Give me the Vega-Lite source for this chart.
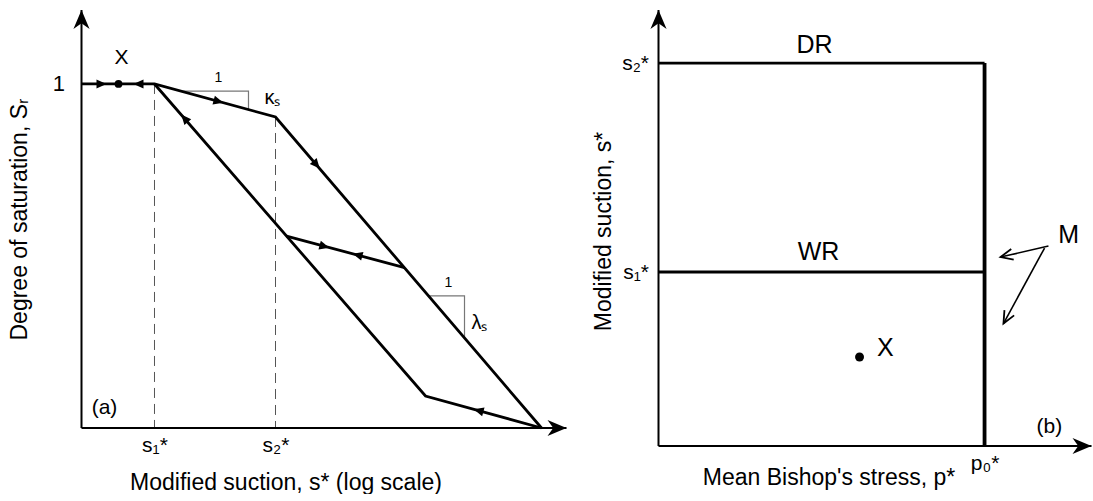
{
  "$schema": "https://vega.github.io/schema/vega-lite/v6.json",
  "padding": {"left": 8.5, "top": 9, "right": 0, "bottom": 0},
  "background": "white",
  "spacing": 92,
  "bounds": "flush",
  "config": {
    "view": {"stroke": null},
    "font": "Liberation Sans",
    "axis": {"grid": false, "domain": false, "ticks": false, "labelFont": "Liberation Sans", "titleFont": "Liberation Sans", "labelColor": "black", "titleColor": "black", "titleFontWeight": "normal", "labelFontWeight": "normal"}
  },
  "datasets": {
    "a_axes": [{"x": 0, "y": 0, "x2": 0, "y2": 1.215}, {"x": 0, "y": 0, "x2": 10, "y2": 0}],
    "a_axarrows": [{"x": 0, "y": 1.215, "dir": "up"}, {"x": 10, "y": 0, "dir": "right"}],
    "a_lines": [
      {"seg": "drying", "i": 0, "x": 0, "y": 1},
      {"seg": "drying", "i": 1, "x": 1.505, "y": 1},
      {"seg": "drying", "i": 2, "x": 4.0, "y": 0.904},
      {"seg": "drying", "i": 3, "x": 9.485, "y": 0},
      {"seg": "wetting", "i": 0, "x": 9.485, "y": 0},
      {"seg": "wetting", "i": 1, "x": 7.093, "y": 0.093},
      {"seg": "wetting", "i": 2, "x": 1.505, "y": 1},
      {"seg": "scanning", "i": 0, "x": 4.227, "y": 0.558},
      {"seg": "scanning", "i": 1, "x": 6.66, "y": 0.466}
    ],
    "a_dash": [
      {"seg": "s1", "i": 0, "x": 1.505, "y": 1},
      {"seg": "s1", "i": 1, "x": 1.505, "y": 0},
      {"seg": "s2", "i": 0, "x": 4.0, "y": 0.904},
      {"seg": "s2", "i": 1, "x": 4.0, "y": 0}
    ],
    "a_tri": [
      {"seg": "kappa", "i": 0, "x": 2.05, "y": 0.979},
      {"seg": "kappa", "i": 1, "x": 3.443, "y": 0.979},
      {"seg": "kappa", "i": 2, "x": 3.443, "y": 0.925},
      {"seg": "lambda", "i": 0, "x": 7.155, "y": 0.384},
      {"seg": "lambda", "i": 1, "x": 7.897, "y": 0.384},
      {"seg": "lambda", "i": 2, "x": 7.897, "y": 0.262}
    ],
    "a_arrows": [
      {"x": 0.412, "y": 1, "dir": "drying_h"},
      {"x": 1.175, "y": 1, "dir": "wetting_h"},
      {"x": 2.825, "y": 0.949, "dir": "drying_kappa"},
      {"x": 4.845, "y": 0.765, "dir": "drying_main"},
      {"x": 5.01, "y": 0.528, "dir": "drying_scan"},
      {"x": 5.69, "y": 0.503, "dir": "wetting_scan"},
      {"x": 2.124, "y": 0.9, "dir": "wetting_main"},
      {"x": 8.186, "y": 0.0505, "dir": "wetting_low"}
    ],
    "a_dots": [{"x": 0.763, "y": 1}],
    "a_text_big": [{"x": 0.825, "y": 1.076, "t": "X"}, {"x": 0.474, "y": 0.058, "t": "(a)"}],
    "a_text_mid": [{"x": 3.938, "y": 0.959, "t": "κₛ"}, {"x": 8.206, "y": 0.305, "t": "λₛ"}],
    "a_text_small": [{"x": 2.825, "y": 1.017, "t": "1"}, {"x": 7.567, "y": 0.4215, "t": "1"}],
    "b_axes": [{"x": 0, "y": 0, "x2": 0, "y2": 2.506}, {"x": 0, "y": 0, "x2": 1.328, "y2": 0}],
    "b_axarrows": [{"x": 0, "y": 2.506, "dir": "up"}, {"x": 1.328, "y": 0, "dir": "right"}],
    "b_lines": [{"x": 0, "y": 2.201, "x2": 1, "y2": 2.201}, {"x": 0, "y": 1, "x2": 1, "y2": 1}],
    "b_p0": [{"x": 1, "y": 0, "x2": 1, "y2": 2.201}],
    "b_mlines": [{"x": 1.196, "y": 1.149, "x2": 1.049, "y2": 1.086}, {"x": 1.184, "y": 1.138, "x2": 1.058, "y2": 0.704}],
    "b_marrows": [{"x": 1.049, "y": 1.086, "dir": "upper"}, {"x": 1.058, "y": 0.704, "dir": "lower"}],
    "b_dots": [{"x": 0.6166, "y": 0.5115}],
    "b_text_big": [
      {"x": 0.4785, "y": 2.305, "t": "DR"},
      {"x": 0.491, "y": 1.115, "t": "WR"},
      {"x": 0.696, "y": 0.563, "t": "X"},
      {"x": 1.2577, "y": 1.2126, "t": "M"}
    ],
    "b_text_small": [{"x": 1.199, "y": 0.107, "t": "(b)"}]
  },
  "hconcat": [
    {
      "width": 485,
      "height": 418,
      "encoding": {
        "x": {
          "field": "x", "type": "quantitative",
          "scale": {"domain": [0, 10], "nice": false, "zero": false},
          "axis": {
            "values": [1.505, 4.0],
            "labelExpr": "datum.value < 2 ? 's₁*' : 's₂*'",
            "labelFontSize": 21, "labelPadding": 6,
            "title": "Modified suction, s* (log scale)",
            "titleFontSize": 23, "titleX": 204, "titleY": 54,
            "titleBaseline": "middle", "titleAlign": "center"
          }
        },
        "y": {
          "field": "y", "type": "quantitative",
          "scale": {"domain": [0, 1.215], "nice": false, "zero": false},
          "axis": {
            "values": [1],
            "labelExpr": "'1'",
            "labelFontSize": 22, "labelPadding": 17, "labelBaseline": "middle",
            "title": "Degree of saturation, Sᵣ",
            "titleFontSize": 23, "titleX": -62, "titleY": 209,
            "titleBaseline": "middle", "titleAlign": "center"
          }
        }
      },
      "layer": [
        {"data": {"name": "a_dash"}, "mark": {"type": "line", "color": "#555555", "strokeWidth": 1, "strokeDash": [10, 6]}, "encoding": {"detail": {"field": "seg"}, "order": {"field": "i"}}},
        {"data": {"name": "a_tri"}, "mark": {"type": "line", "color": "#777777", "strokeWidth": 1.2}, "encoding": {"detail": {"field": "seg"}, "order": {"field": "i"}}},
        {"data": {"name": "a_axes"}, "mark": {"type": "rule", "color": "black", "strokeWidth": 2}, "encoding": {"x2": {"field": "x2"}, "y2": {"field": "y2"}}},
        {"data": {"name": "a_axarrows"}, "transform": [{"filter": "datum.dir === 'up'"}], "mark": {"type": "point", "shape": "M0,0 L-2,-0.85 L-1.4,0 L-2,0.85 Z", "angle": 270, "filled": true, "color": "black", "opacity": 1, "size": 360}},
        {"data": {"name": "a_axarrows"}, "transform": [{"filter": "datum.dir === 'right'"}], "mark": {"type": "point", "shape": "M0,0 L-2,-0.85 L-1.4,0 L-2,0.85 Z", "angle": 0, "filled": true, "color": "black", "opacity": 1, "size": 360}},
        {"data": {"name": "a_lines"}, "mark": {"type": "line", "color": "black", "strokeWidth": 2.8}, "encoding": {"detail": {"field": "seg"}, "order": {"field": "i"}}},
        {"data": {"name": "a_arrows"}, "transform": [{"filter": "datum.dir === 'drying_h'"}], "mark": {"type": "point", "shape": "M1,0 L-1,-0.9 L-1,0.9 Z", "angle": 0, "filled": true, "color": "black", "opacity": 1, "size": 100}},
        {"data": {"name": "a_arrows"}, "transform": [{"filter": "datum.dir === 'wetting_h'"}], "mark": {"type": "point", "shape": "M1,0 L-1,-0.9 L-1,0.9 Z", "angle": 180, "filled": true, "color": "black", "opacity": 1, "size": 100}},
        {"data": {"name": "a_arrows"}, "transform": [{"filter": "datum.dir === 'drying_kappa'"}], "mark": {"type": "point", "shape": "M1,0 L-1,-0.9 L-1,0.9 Z", "angle": 15.3, "filled": true, "color": "black", "opacity": 1, "size": 100}},
        {"data": {"name": "a_arrows"}, "transform": [{"filter": "datum.dir === 'drying_main'"}], "mark": {"type": "point", "shape": "M1,0 L-1,-0.9 L-1,0.9 Z", "angle": 49.5, "filled": true, "color": "black", "opacity": 1, "size": 100}},
        {"data": {"name": "a_arrows"}, "transform": [{"filter": "datum.dir === 'drying_scan'"}], "mark": {"type": "point", "shape": "M1,0 L-1,-0.9 L-1,0.9 Z", "angle": 15, "filled": true, "color": "black", "opacity": 1, "size": 100}},
        {"data": {"name": "a_arrows"}, "transform": [{"filter": "datum.dir === 'wetting_scan'"}], "mark": {"type": "point", "shape": "M1,0 L-1,-0.9 L-1,0.9 Z", "angle": 195, "filled": true, "color": "black", "opacity": 1, "size": 100}},
        {"data": {"name": "a_arrows"}, "transform": [{"filter": "datum.dir === 'wetting_main'"}], "mark": {"type": "point", "shape": "M1,0 L-1,-0.9 L-1,0.9 Z", "angle": 229, "filled": true, "color": "black", "opacity": 1, "size": 100}},
        {"data": {"name": "a_arrows"}, "transform": [{"filter": "datum.dir === 'wetting_low'"}], "mark": {"type": "point", "shape": "M1,0 L-1,-0.9 L-1,0.9 Z", "angle": 195.4, "filled": true, "color": "black", "opacity": 1, "size": 100}},
        {"data": {"name": "a_dots"}, "mark": {"type": "point", "shape": "circle", "filled": true, "color": "black", "opacity": 1, "size": 60}},
        {"data": {"name": "a_text_big"}, "mark": {"type": "text", "font": "Liberation Sans", "fontSize": 21, "color": "black", "align": "center", "baseline": "middle"}, "encoding": {"text": {"field": "t"}}},
        {"data": {"name": "a_text_mid"}, "mark": {"type": "text", "font": "Liberation Sans", "fontSize": 20, "color": "black", "align": "center", "baseline": "middle"}, "encoding": {"text": {"field": "t"}}},
        {"data": {"name": "a_text_small"}, "mark": {"type": "text", "font": "Liberation Sans", "fontSize": 14, "color": "black", "align": "center", "baseline": "middle"}, "encoding": {"text": {"field": "t"}}}
      ]
    },
    {
      "width": 433,
      "height": 436,
      "encoding": {
        "x": {
          "field": "x", "type": "quantitative",
          "scale": {"domain": [0, 1.328], "nice": false, "zero": false},
          "axis": {
            "values": [1],
            "labelExpr": "'p₀*'",
            "labelFontSize": 21, "labelPadding": 6,
            "title": "Mean Bishop's stress, p*",
            "titleFontSize": 23, "titleX": 170, "titleY": 31,
            "titleBaseline": "middle", "titleAlign": "center"
          }
        },
        "y": {
          "field": "y", "type": "quantitative",
          "scale": {"domain": [0, 2.506], "nice": false, "zero": false},
          "axis": {
            "values": [1, 2.201],
            "labelExpr": "datum.value < 1.5 ? 's₁*' : 's₂*'",
            "labelFontSize": 21, "labelPadding": 10, "labelBaseline": "middle",
            "title": "Modified suction, s*",
            "titleFontSize": 23, "titleX": -55, "titleY": 221,
            "titleBaseline": "middle", "titleAlign": "center"
          }
        }
      },
      "layer": [
        {"data": {"name": "b_axes"}, "mark": {"type": "rule", "color": "black", "strokeWidth": 2}, "encoding": {"x2": {"field": "x2"}, "y2": {"field": "y2"}}},
        {"data": {"name": "b_axarrows"}, "transform": [{"filter": "datum.dir === 'up'"}], "mark": {"type": "point", "shape": "M0,0 L-2,-0.85 L-1.4,0 L-2,0.85 Z", "angle": 270, "filled": true, "color": "black", "opacity": 1, "size": 360}},
        {"data": {"name": "b_axarrows"}, "transform": [{"filter": "datum.dir === 'right'"}], "mark": {"type": "point", "shape": "M0,0 L-2,-0.85 L-1.4,0 L-2,0.85 Z", "angle": 0, "filled": true, "color": "black", "opacity": 1, "size": 360}},
        {"data": {"name": "b_lines"}, "mark": {"type": "rule", "color": "black", "strokeWidth": 2.8}, "encoding": {"x2": {"field": "x2"}, "y2": {"field": "y2"}}},
        {"data": {"name": "b_p0"}, "mark": {"type": "rule", "color": "black", "strokeWidth": 3.8}, "encoding": {"x2": {"field": "x2"}, "y2": {"field": "y2"}}},
        {"data": {"name": "b_mlines"}, "mark": {"type": "rule", "color": "black", "strokeWidth": 1.6}, "encoding": {"x2": {"field": "x2"}, "y2": {"field": "y2"}}},
        {"data": {"name": "b_marrows"}, "transform": [{"filter": "datum.dir === 'upper'"}], "mark": {"type": "point", "shape": "M-2,-0.9 L0,0 L-2,0.9", "angle": 167, "filled": false, "color": "black", "strokeWidth": 1.8, "opacity": 1, "size": 150}},
        {"data": {"name": "b_marrows"}, "transform": [{"filter": "datum.dir === 'lower'"}], "mark": {"type": "point", "shape": "M-2,-0.9 L0,0 L-2,0.9", "angle": 118.4, "filled": false, "color": "black", "strokeWidth": 1.8, "opacity": 1, "size": 150}},
        {"data": {"name": "b_dots"}, "mark": {"type": "point", "shape": "circle", "filled": true, "color": "black", "opacity": 1, "size": 80}},
        {"data": {"name": "b_text_big"}, "mark": {"type": "text", "font": "Liberation Sans", "fontSize": 25, "color": "black", "align": "center", "baseline": "middle"}, "encoding": {"text": {"field": "t"}}},
        {"data": {"name": "b_text_small"}, "mark": {"type": "text", "font": "Liberation Sans", "fontSize": 21, "color": "black", "align": "center", "baseline": "middle"}, "encoding": {"text": {"field": "t"}}}
      ]
    }
  ]
}
